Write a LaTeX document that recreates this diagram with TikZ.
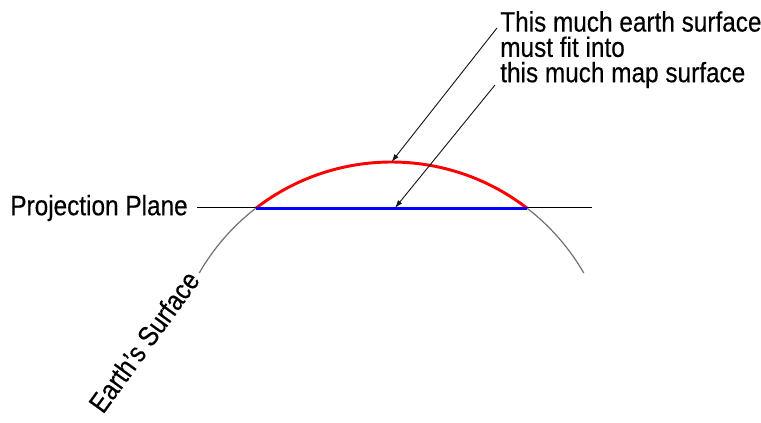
\documentclass[tikz,border=0pt]{standalone}
\usepackage{fontspec}
\setmainfont[FakeStretch=0.87,FakeBold=0.3]{Liberation Sans}
\usetikzlibrary{arrows.meta}

\definecolor{earthGray}{HTML}{707070}
\definecolor{mapRed}{HTML}{FF0000}
\definecolor{mapBlue}{HTML}{0000FF}

\begin{document}
\begin{tikzpicture}[x=0.75pt,y=0.75pt,font=\fontsize{21}{19}\selectfont]
  \useasboundingbox (0,0) rectangle (761,423);

  % sphere centre and chord ends
  \coordinate (ctr) at (391.5,39);
  \coordinate (cl) at ([shift={(127.6:222)}]ctr);
  \coordinate (cr) at ([shift={(52.4:222)}]ctr);
  \coordinate (ctop) at ([shift={(90:222)}]ctr);
  \coordinate (cmid) at (395,215);
  \coordinate (pr) at (592,215);

  \draw[earthGray,line width=0.9pt] ([shift={(150:222)}]ctr)
    arc[start angle=150,end angle=30,radius=222];

  \node[anchor=east,inner xsep=6.75pt,inner ysep=0pt] (plane) at (197,215)
    {Projection Plane};
  \draw[black,line width=0.75pt] (plane.east) -- (pr);

  \draw[mapRed,line width=2.2pt] (cl) arc[start angle=127.6,end angle=52.4,radius=222];
  \draw[mapBlue,line width=2.2pt] (cl) -- (cr);

  \node[anchor=north west,align=left,inner sep=0pt] (note) at (500,412)
    {This much earth surface\\must fit into\\this much map surface};
  \coordinate (a1) at (497,395);
  \coordinate (a2) at (495,338);
  \draw[-{Latex[length=6pt,width=4pt]},black!90,line width=0.7pt] (a1) -- (ctop);
  \draw[-{Latex[length=6pt,width=4pt]},black!90,line width=0.7pt] (a2) -- (cmid);

  \node[rotate=54,anchor=base west,inner sep=0pt] (earth) at (103,8)
    {Earth{\char"27}s Surface};
\end{tikzpicture}
\end{document}
